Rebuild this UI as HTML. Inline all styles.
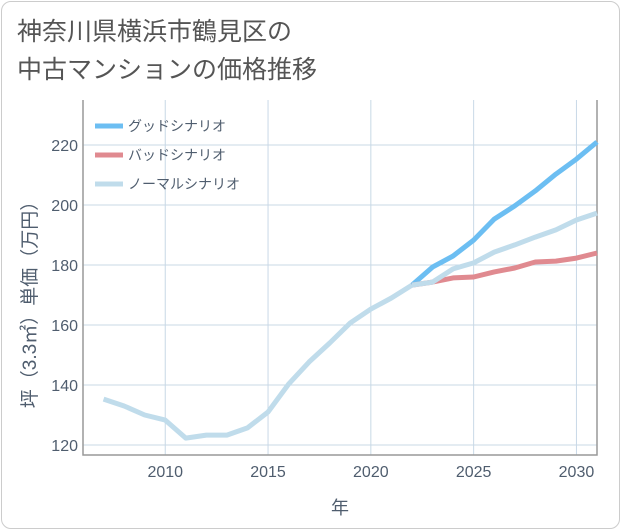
<!DOCTYPE html>
<html><head><meta charset="utf-8"><style>
body{margin:0;background:#fff;font-family:"Liberation Sans","Noto Sans CJK JP",sans-serif;}
#card{position:absolute;left:1px;top:1px;width:617px;height:526px;border:1px solid #ccc;border-radius:10px;}
#title{position:absolute;left:17px;top:13px;font-size:25px;line-height:38px;color:#555;}
</style></head><body>
<div id="card"></div>
<div id="title">神奈川県横浜市鶴見区の<br>中古マンションの価格推移</div>
<svg id="chart" width="621" height="530" style="position:absolute;left:0;top:0"></svg>
<script>
const years=[2007,2008,2009,2010,2011,2012,2013,2014,2015,2016,2017,2018,2019,2020,2021,2022];
const normalPast=[135.3,133,130,128.3,122.3,123.3,123.3,125.7,131,140.3,147.7,154,160.7,165.3,169,173.3];
const futureYears=[2022,2023,2024,2025,2026,2027,2028,2029,2030,2031];
const good=[173.3,179.3,183,188.3,195.3,199.7,204.7,210.3,215.3,221];
const bad=[173.3,174.3,175.7,176,177.7,179,181,181.3,182.3,184];
const normalFuture=[173.3,174.3,178.7,180.7,184.3,186.7,189.3,191.7,195,197.3];
const xTicks=[2010,2015,2020,2025,2030];
const yTicks=[120,140,160,180,200,220];
const L=83,R=597,T=100,B=455;
const x=v=>L+(v-2006)*(R-L)/25;
const y=v=>445-(v-120)*3;
const svg=document.getElementById('chart');
const NS='http://www.w3.org/2000/svg';
const TXT='#4f5d6e';
function mk(t,a){const e=document.createElementNS(NS,t);for(const k in a)e.setAttribute(k,a[k]);svg.appendChild(e);return e;}
const bg=mk('rect',{x:L,y:T,width:R-L,height:B-T,fill:'#fff'});


yTicks.forEach(v=>{
 const g=mk('line',{x1:L,x2:R,y1:y(v),y2:y(v),stroke:'#c8d8e6','stroke-width':1});
 
 
 const t=mk('text',{x:L-5,y:y(v)+6,'text-anchor':'end','font-size':16,fill:TXT});
 t.textContent=v;
 
 
});
xTicks.forEach(v=>{
 const g=mk('line',{x1:x(v),x2:x(v),y1:T,y2:B,stroke:'#c8d8e6','stroke-width':1});
 
 
 const t=mk('text',{x:x(v),y:B+22,'text-anchor':'middle','font-size':16,fill:TXT});
 t.textContent=v;
 
 
});
const ax=mk('path',{d:`M${L},${T}V${B}H${R}V${T}`,fill:'none',stroke:'#999','stroke-width':1.5});


function line(xs,ys,c,name){
 const p=mk('polyline',{points:xs.map((v,i)=>x(v)+','+y(ys[i])).join(' '),fill:'none',stroke:c,'stroke-width':5,'stroke-linejoin':'round'});
 
 
}
line(futureYears,good,'#6cbef2','good-scenario-line');
line(futureYears,bad,'#e08a90','bad-scenario-line');
line(years,normalPast,'#c0dceb','normal-past-line');
line(futureYears,normalFuture,'#c0dceb','normal-scenario-line');
const leg=[['グッドシナリオ','#6cbef2'],['バッドシナリオ','#e08a90'],['ノーマルシナリオ','#c0dceb']];
leg.forEach((d,i)=>{
 const yy=126+i*29;
 const l=mk('line',{x1:95,x2:123,y1:yy,y2:yy,stroke:d[1],'stroke-width':5});
 
 
 const t=mk('text',{x:128,y:yy+5,'font-size':14,fill:TXT});
 t.textContent=d[0];
 
 
});
const xt=mk('text',{x:(L+R)/2,y:514,'text-anchor':'middle','font-size':18,fill:TXT});
xt.textContent='年';


const yt=mk('text',{x:0,y:0,'text-anchor':'middle','font-size':19,fill:TXT,transform:`translate(36,300) rotate(-90)`});
yt.textContent='坪（3.3㎡）単価（万円）';


</script>
</body></html>
